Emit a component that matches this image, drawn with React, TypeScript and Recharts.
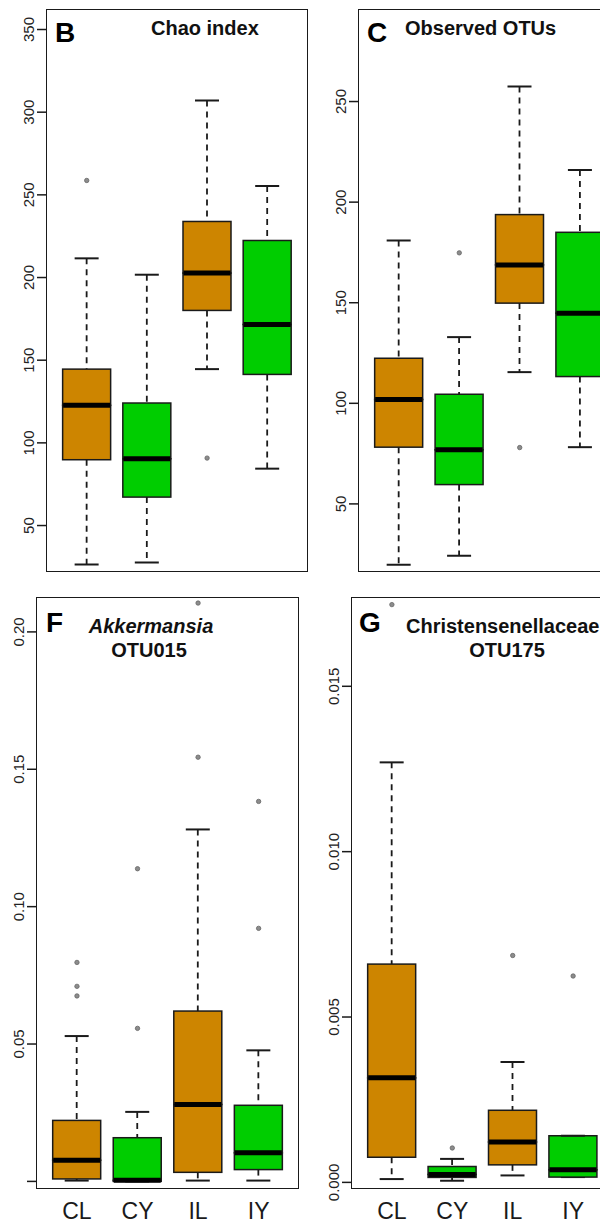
import React from "react";
import { ComposedChart, Bar, Scatter, XAxis, YAxis } from "recharts";

const groups = ["CL", "CY", "IL", "IY"];
const BROWN = "#CD8500";
const GREEN = "#00CD00";
const INK = "#1a1a1a";
const FONT = "Liberation Sans, Arial, sans-serif";

// B: Chao index
const chaoMin = [26.4, 27.6, 144.6, 84.4];
const chaoQ1 = [89.8, 67.2, 180.1, 141.4];
const chaoMed = [122.7, 90.4, 202.7, 171.6];
const chaoQ3 = [144.6, 124.1, 233.9, 222.4];
const chaoMax = [211.6, 201.7, 307.1, 255.3];
const chaoOut = [[258.7], [], [90.8], []];

// C: observed OTUs
const otuMin = [19.7, 24.2, 115.5, 78.2];
const otuQ1 = [78.2, 59.6, 149.8, 113.3];
const otuMed = [101.9, 76.9, 168.8, 144.8];
const otuQ3 = [122.4, 104.5, 193.8, 185.0];
const otuMax = [180.9, 132.9, 257.5, 216.0];
const otuOut = [[], [174.8], [78.0], []];

// F: Akkermansia OTU015
const akkMin = [0.0003, 0, 0.0003, 0.0003];
const akkQ1 = [0.0009, 0, 0.0033, 0.0043];
const akkMed = [0.0077, 0.0004, 0.028, 0.0104];
const akkQ3 = [0.0222, 0.0159, 0.062, 0.0277];
const akkMax = [0.0529, 0.0253, 0.1281, 0.0477];
const akkOut = [[0.0797, 0.071, 0.0675], [0.1138, 0.0557], [0.2105, 0.1544], [0.1383, 0.0921]];

// G: Christensenellaceae OTU175
const chrMin = [0.0001, 0.00005, 0.00021, 0.00016];
const chrQ1 = [0.00076, 0.00015, 0.00053, 0.00016];
const chrMed = [0.00316, 0.00024, 0.00122, 0.00038];
const chrQ3 = [0.0066, 0.00048, 0.00218, 0.00141];
const chrMax = [0.0127, 0.00071, 0.00364, 0.00141];
const chrOut = [[0.01747], [0.00104], [0.00686], [0.00624]];

const chaoTicks = [50, 100, 150, 200, 250, 300, 350];
const otuTicks = [50, 100, 150, 200, 250];
const akkTicks = [0, 0.05, 0.1, 0.15, 0.2];
const chrTicks = [0, 0.005, 0.01, 0.015];

const buildRows = (
  mn: number[], q1: number[], md: number[], q3: number[], mx: number[], out: number[][]
) =>
  groups.map((g, i) => ({
    name: g,
    color: i % 2 === 0 ? BROWN : GREEN,
    base: mn[i],
    lowW: q1[i] - mn[i],
    boxLow: md[i] - q1[i],
    boxHigh: q3[i] - md[i],
    highW: mx[i] - q3[i],
    o1: out[i][0] ?? null,
    o2: out[i][1] ?? null,
    o3: out[i][2] ?? null,
  }));

const AXW = 40;

const Blank = () => <g />;

const LowWhisker = (p: any) => {
  const cx = p.x + p.width / 2;
  const yb = p.y + p.height;
  return (
    <g>
      <line x1={cx} x2={cx} y1={p.y} y2={yb} stroke={INK} strokeWidth={1.8} strokeDasharray="6 5" />
      <line x1={cx - 12} x2={cx + 12} y1={yb} y2={yb} stroke={INK} strokeWidth={2} />
    </g>
  );
};

const HighWhisker = (p: any) => {
  const cx = p.x + p.width / 2;
  return (
    <g>
      <line x1={cx} x2={cx} y1={p.y} y2={p.y + p.height} stroke={INK} strokeWidth={1.8} strokeDasharray="6 5" />
      <line x1={cx - 12} x2={cx + 12} y1={p.y} y2={p.y} stroke={INK} strokeWidth={2} />
    </g>
  );
};

const BoxLow = (p: any) => (
  <rect x={p.x} y={p.y} width={p.width} height={Math.max(p.height, 0)} fill={p.payload.color} stroke={INK} strokeWidth={1.5} />
);

// upper half of the box, median drawn on its lower edge
const BoxHigh = (p: any) => {
  const yb = p.y + p.height;
  return (
    <g>
      <rect x={p.x} y={p.y} width={p.width} height={Math.max(p.height, 0)} fill={p.payload.color} stroke={INK} strokeWidth={1.5} />
      <line x1={p.x + 0.5} x2={p.x + p.width - 0.5} y1={yb} y2={yb} stroke="#000" strokeWidth={5} />
    </g>
  );
};

const outlier = (key: string) => (p: any) => {
  if (!p.payload || p.payload[key] == null || p.cy == null || isNaN(p.cy)) return <g />;
  return <circle cx={p.cx} cy={p.cy} r={2.2} fill="#8c8c8c" stroke="#666" strokeWidth={0.8} />;
};

const YTick = (p: any) => (
  <text
    x={p.x}
    y={p.y}
    transform={`rotate(-90 ${p.x} ${p.y})`}
    textAnchor="middle"
    fontSize={15}
    fill="#222"
    fontFamily={FONT}
  >
    {p.fmt(p.payload.value)}
  </text>
);

const XTick = (p: any) => (
  <text x={p.x} y={p.y} dy={31} textAnchor="middle" fontSize={23} fill={INK} fontFamily={FONT}>
    {p.payload.value}
  </text>
);

type PanelProps = {
  left: number;
  top: number;
  w: number;
  h: number;
  domain: [number, number];
  ticks: number[];
  fmt: (v: number) => string;
  rows: ReturnType<typeof buildRows>;
  labels: boolean;
};

function Panel({ left, top, w, h, domain, ticks, fmt, rows, labels }: PanelProps) {
  const pad = (w * 0.16) / 4.32;
  const bottom = labels ? 36 : 0;
  return (
    <>
      <div style={{ position: "absolute", left: left - AXW, top: top - 1 }}>
        <ComposedChart
          width={AXW + w + 1}
          height={h + 2 + bottom}
          data={rows}
          margin={{ top: 1, right: 1, bottom: 1, left: 0 }}
          barSize={48}
        >
          <XAxis
            dataKey="name"
            padding={{ left: pad, right: pad }}
            height={bottom}
            tickLine={false}
            tickSize={0}
            tickMargin={0}
            axisLine={false}
            tick={labels ? (t: any) => <XTick {...t} /> : false}
            interval={0}
          />
          <YAxis
            type="number"
            domain={domain}
            allowDataOverflow
            ticks={ticks}
            width={AXW}
            tickSize={10}
            tickMargin={3}
            stroke={INK}
            tickLine={{ stroke: INK, strokeWidth: 1.5 }}
            axisLine={false}
            tick={(t: any) => <YTick {...t} fmt={fmt} />}
            interval={0}
          />
          <Bar dataKey="base" stackId="b" shape={Blank} isAnimationActive={false} />
          <Bar dataKey="lowW" stackId="b" shape={LowWhisker} isAnimationActive={false} />
          <Bar dataKey="boxLow" stackId="b" shape={BoxLow} isAnimationActive={false} />
          <Bar dataKey="boxHigh" stackId="b" shape={BoxHigh} isAnimationActive={false} />
          <Bar dataKey="highW" stackId="b" shape={HighWhisker} isAnimationActive={false} />
          <Scatter dataKey="o1" shape={outlier("o1")} isAnimationActive={false} />
          <Scatter dataKey="o2" shape={outlier("o2")} isAnimationActive={false} />
          <Scatter dataKey="o3" shape={outlier("o3")} isAnimationActive={false} />
        </ComposedChart>
      </div>
      {/* plot frame (R box()) */}
      <div
        style={{
          position: "absolute",
          left: left - 0.8,
          top: top - 0.8,
          width: w + 1.6,
          height: h + 1.6,
          border: `1.6px solid ${INK}`,
          boxSizing: "border-box",
          pointerEvents: "none",
        }}
      />
    </>
  );
}

export default function App() {
  const t = { fontFamily: FONT, fontWeight: "bold" as const, fill: "#111" };
  return (
    <div
      style={{
        position: "fixed",
        left: 0,
        top: 0,
        width: 600,
        height: 1223,
        overflow: "hidden",
        background: "#fff",
      }}
    >
      <Panel left={47} top={9.5} w={260} h={561.5} domain={[22.2, 361.8]} ticks={chaoTicks}
        fmt={(v) => String(v)} rows={buildRows(chaoMin, chaoQ1, chaoMed, chaoQ3, chaoMax, chaoOut)} labels={false} />
      <Panel left={358.7} top={9.5} w={261} h={561.5} domain={[16.4, 295.5]} ticks={otuTicks}
        fmt={(v) => String(v)} rows={buildRows(otuMin, otuQ1, otuMed, otuQ3, otuMax, otuOut)} labels={false} />
      <Panel left={36.7} top={597.3} w={261.6} h={591} domain={[-0.0024, 0.2127]} ticks={akkTicks}
        fmt={(v) => (v === 0 ? "" : v.toFixed(2))} rows={buildRows(akkMin, akkQ1, akkMed, akkQ3, akkMax, akkOut)} labels />
      <Panel left={351.7} top={597.3} w={261} h={591} domain={[-0.00017, 0.0177]} ticks={chrTicks}
        fmt={(v) => v.toFixed(3)} rows={buildRows(chrMin, chrQ1, chrMed, chrQ3, chrMax, chrOut)} labels />

      <svg width={600} height={1223} style={{ position: "absolute", left: 0, top: 0, pointerEvents: "none" }}>
        <text x={55} y={41.5} fontSize={28} {...t} fill="#000">B</text>
        <text x={151} y={34.5} fontSize={20} {...t}>Chao index</text>
        <text x={367} y={41.5} fontSize={28} {...t} fill="#000">C</text>
        <text x={405} y={34.5} fontSize={20} {...t}>Observed OTUs</text>
        <text x={46} y={631.5} fontSize={28} {...t} fill="#000">F</text>
        <text x={151} y={633.3} fontSize={20} textAnchor="middle" fontStyle="italic" {...t}>Akkermansia</text>
        <text x={149} y={656.7} fontSize={20} textAnchor="middle" {...t}>OTU015</text>
        <text x={359} y={631.5} fontSize={28} {...t} fill="#000">G</text>
        <text x={406} y={633.3} fontSize={20} {...t}>Christensenellaceae</text>
        <text x={507} y={656.7} fontSize={20} textAnchor="middle" {...t}>OTU175</text>
      </svg>
    </div>
  );
}
